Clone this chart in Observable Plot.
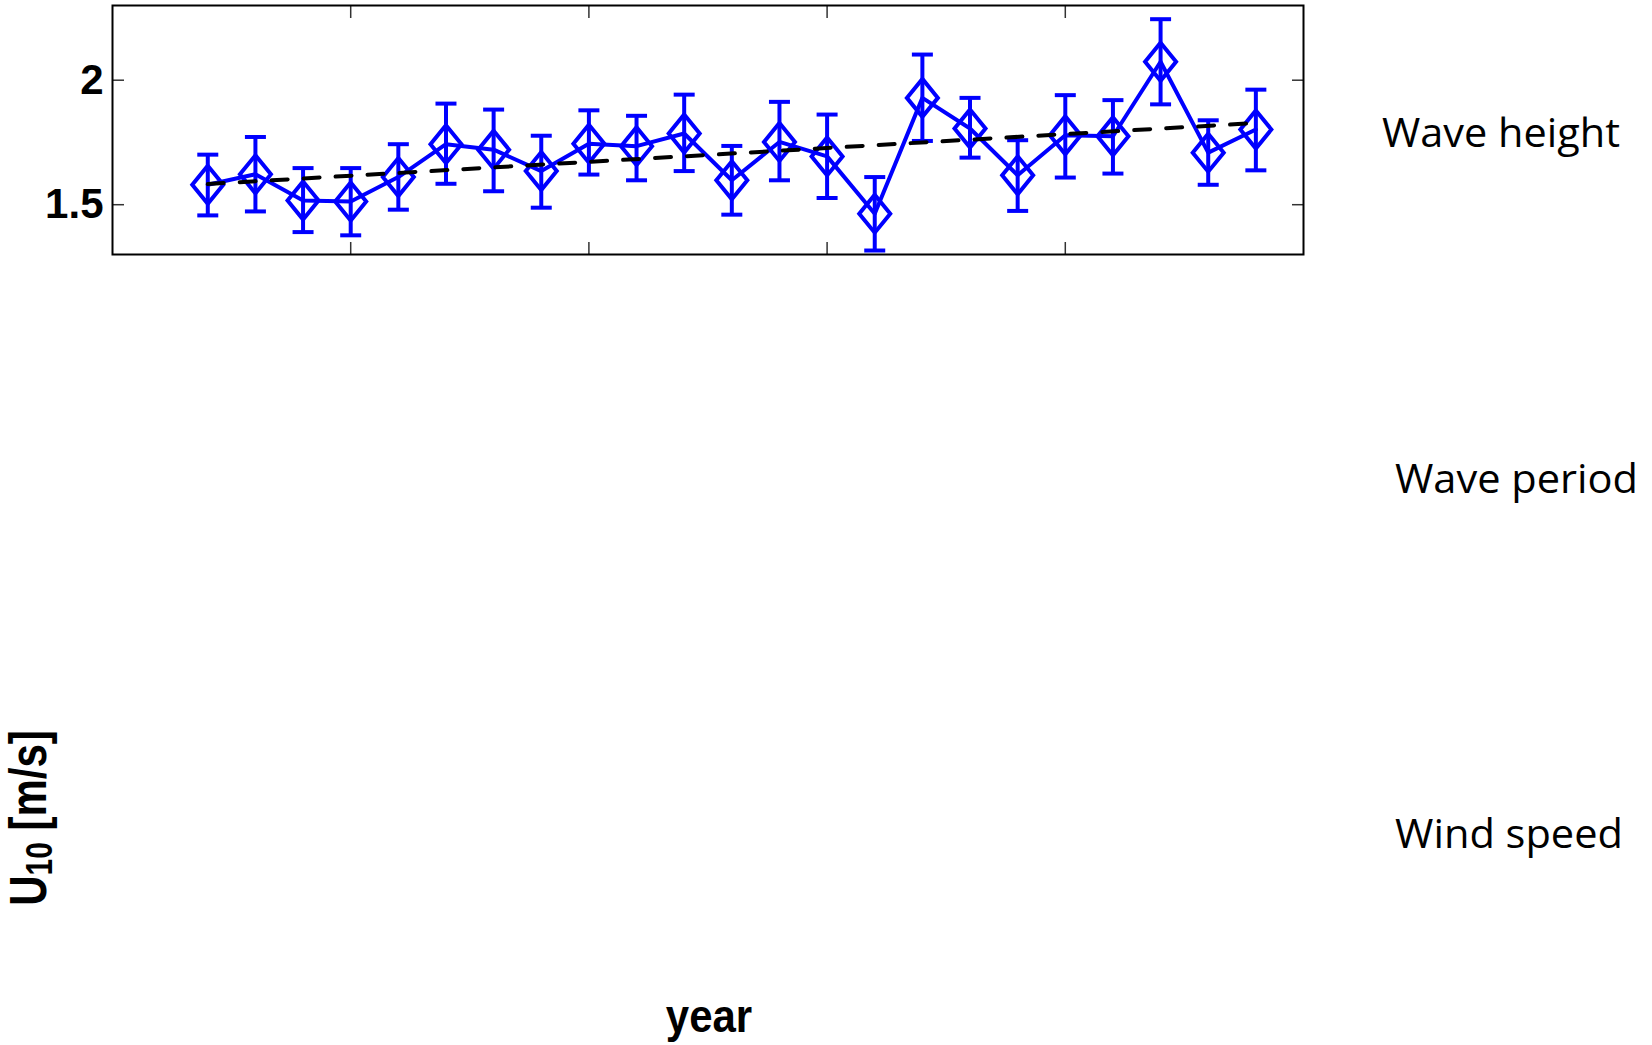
<!DOCTYPE html>
<html>
<head>
<meta charset="utf-8">
<script src="https://cdn.jsdelivr.net/npm/d3@7"></script>
<script src="https://cdn.jsdelivr.net/npm/@observablehq/plot@0.6"></script>
<style>
  html, body { margin: 0; padding: 0; background: #fff; }
  #wrap { position: relative; width: 1652px; height: 1045px; overflow: hidden; background: #fff; }
  #wrap > svg { position: absolute; left: 0; top: 0; }
</style>
</head>
<body>
<div id="wrap"></div>
<script>
// ---- data ----
const years = [1992, 1993, 1994, 1995, 1996, 1997, 1998, 1999, 2000, 2001, 2002, 2003,
               2004, 2005, 2006, 2007, 2008, 2009, 2010, 2011, 2012, 2013, 2014];
const meanValues = [1.580, 1.622, 1.517, 1.513, 1.611, 1.743, 1.721, 1.635, 1.745, 1.735, 1.786, 1.598,
                    1.752, 1.694, 1.464, 1.929, 1.806, 1.618, 1.779, 1.775, 2.074, 1.709, 1.802];
const upperValues = [1.701, 1.772, 1.647, 1.647, 1.743, 1.906, 1.882, 1.777, 1.879, 1.857, 1.942, 1.736,
                     1.913, 1.862, 1.611, 2.103, 1.929, 1.759, 1.940, 1.920, 2.245, 1.839, 1.962];
const lowerValues = [1.457, 1.473, 1.390, 1.377, 1.480, 1.584, 1.554, 1.488, 1.621, 1.598, 1.635, 1.460,
                     1.598, 1.527, 1.316, 1.756, 1.689, 1.475, 1.609, 1.625, 1.903, 1.580, 1.638];
const trendYears = [1992, 2014];
const trendValues = [1.583, 1.828];
const xTicks = [1995, 2000, 2005, 2010];
const yTicks = [1.5, 2];
const xDomain = [1990, 2015];
const yDomain = [1.3, 2.3];
const panelLabels = ["Wave height", "Wave period", "Wind speed"];
const xLabel = "year";
const yLabelMain = "U";
const yLabelSub = "10";
const yLabelUnit = " [m/s]";

// ---- tables built from arrays ----
const rows = years.map((y, i) => ({year: y, mean: meanValues[i], upper: upperValues[i], lower: lowerValues[i]}));
const trend = trendYears.map((y, i) => ({year: y, value: trendValues[i]}));

// custom symbols
const diamondSymbol = {
  draw(ctx) {
    ctx.moveTo(0, -19); ctx.lineTo(15.5, 0); ctx.lineTo(0, 19); ctx.lineTo(-15.5, 0); ctx.closePath();
  }
};
const capSymbol = {
  draw(ctx) { ctx.moveTo(-10.5, 0); ctx.lineTo(10.5, 0); }
};

const BLUE = "#0000ff";
const chart = Plot.plot({
  width: 1652,
  height: 270,
  marginLeft: 112,
  marginRight: 349,
  marginTop: 5,
  marginBottom: 16,
  x: {domain: xDomain},
  y: {domain: yDomain},
  style: {background: "transparent", fontFamily: "'Liberation Sans', Arial, sans-serif", overflow: "visible"},
  marks: [
    Plot.axisY(yTicks, {anchor: "left", tickSize: 0, tickPadding: 9, fontSize: 42, fontWeight: "bold", fill: "black", label: null, tickFormat: d => `${d}`}),
    Plot.axisY(yTicks, {anchor: "left", tickSize: -12, tickFormat: () => "", label: null, stroke: "#333", strokeWidth: 1.5}),
    Plot.axisY(yTicks, {anchor: "right", tickSize: -12, tickFormat: () => "", label: null, stroke: "#333", strokeWidth: 1.5}),
    Plot.axisX(xTicks, {anchor: "bottom", tickSize: -12, tickFormat: () => "", label: null, stroke: "#333", strokeWidth: 1.5}),
    Plot.axisX(xTicks, {anchor: "top", tickSize: -12, tickFormat: () => "", label: null, stroke: "#333", strokeWidth: 1.5}),
    Plot.ruleX(rows, {x: "year", y1: "lower", y2: "upper", stroke: BLUE, strokeWidth: 4}),
    Plot.dot(rows, {x: "year", y: "upper", symbol: capSymbol, fill: "none", stroke: BLUE, strokeWidth: 4}),
    Plot.dot(rows, {x: "year", y: "lower", symbol: capSymbol, fill: "none", stroke: BLUE, strokeWidth: 4}),
    Plot.line(rows, {x: "year", y: "mean", stroke: BLUE, strokeWidth: 4}),
    Plot.dot(rows, {x: "year", y: "mean", symbol: diamondSymbol, fill: "none", stroke: BLUE, strokeWidth: 4, strokeLinejoin: "miter"}),
    Plot.line(trend, {x: "year", y: "value", stroke: "black", strokeWidth: 4, strokeDasharray: "16,16"}),
    Plot.frame({stroke: "black", strokeWidth: 2})
  ]
});
document.getElementById("wrap").appendChild(chart);

// ---- annotation overlay (labels outside the panel) ----
const ov = d3.select("#wrap").append("svg")
  .attr("width", 1652).attr("height", 1045)
  .style("pointer-events", "none");

const panelLayout = [
  {x: 1382, y: 147, len: 238},
  {x: 1395, y: 493, len: 243},
  {x: 1395, y: 848, len: 228}
];
panelLabels.forEach((t, i) => {
  ov.append("text")
    .attr("x", panelLayout[i].x).attr("y", panelLayout[i].y)
    .attr("textLength", panelLayout[i].len).attr("lengthAdjust", "spacingAndGlyphs")
    .style("font-family", "'Open Sans', 'Noto Sans', sans-serif")
    .style("font-size", "40px")
    .attr("fill", "black")
    .text(t);
});

ov.append("text")
  .attr("transform", "translate(709,1032) scale(1,1.1)")
  .attr("text-anchor", "middle")
  .style("font-family", "'Liberation Sans', Arial, sans-serif")
  .style("font-size", "42px").style("font-weight", "bold")
  .text(xLabel);

const yl = ov.append("text")
  .attr("transform", "translate(46,818) rotate(-90) scale(1,1.25)")
  .attr("text-anchor", "middle")
  .style("font-family", "'Liberation Sans', Arial, sans-serif")
  .style("font-size", "42px").style("font-weight", "bold");
yl.append("tspan").text(yLabelMain);
yl.append("tspan").attr("dy", 5).style("font-size", "30px").text(yLabelSub);
yl.append("tspan").attr("dy", -5).text(yLabelUnit);
</script>
</body>
</html>
